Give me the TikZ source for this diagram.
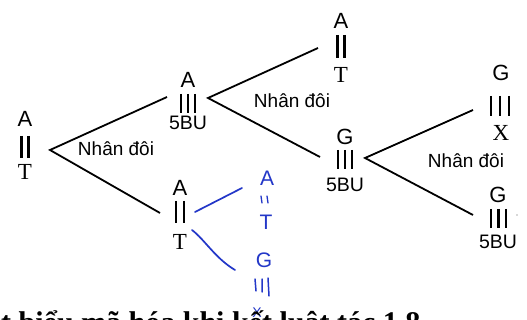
\documentclass[tikz,border=0pt]{standalone}
\usepackage{fontspec}
\setmainfont{Liberation Serif}
\setsansfont{Liberation Sans}
\definecolor{inkblue}{RGB}{35,55,200}
\newcommand\twobars[4]{\draw[bar] (#1,#3)--(#1,#4); \draw[bar] (#2,#3)--(#2,#4);}
\newcommand\threebars[5]{\draw[bar] (#1,#4)--(#1,#5); \draw[bar] (#2,#4)--(#2,#5); \draw[bar] (#3,#4)--(#3,#5);}
\begin{document}
\begin{tikzpicture}[x=1pt,y=-1pt,
  sl/.style={font=\sffamily\fontsize{22}{22}\selectfont, inner sep=0pt},
  sb/.style={font=\sffamily\fontsize{19.5}{19.5}\selectfont, inner sep=0pt},
  sr/.style={font=\rmfamily\fontsize{23}{23}\selectfont, inner sep=0pt},
  lbl/.style={font=\sffamily\fontsize{19}{19}\selectfont, inner sep=0pt},
  bar/.style={line width=2.3pt},
  conn/.style={line width=1.8pt},
  hand/.style={draw=inkblue, line width=1.7pt, line cap=round},
  handtxt/.style={text=inkblue, font=\sffamily\fontsize{21}{21}\selectfont, inner sep=0pt}]
\useasboundingbox (0,0) rectangle (527,320);
\fill[white] (0,0) rectangle (527,320);
% node 1
\node[sl] (a1) at (25,119) {A};
\twobars{21.5}{28.5}{136}{158}
\node[sr] (t1) at (25,172) {T};
% node 2
\node[sl] (a2) at (188,80) {A};
\threebars{181}{188}{195}{94}{113}
\node[sb] (u2) at (188,123) {5BU};
% node 3
\node[sl] (a3) at (341,21) {A};
\twobars{337.5}{344.5}{35}{58}
\node[sr] (t3) at (341,75) {T};
% node 4
\node[sl] (g4) at (345,137) {G};
\threebars{338}{345}{352}{150}{169}
\node[sb] (u4) at (345,185) {5BU};
% node 5
\node[sl] (g5) at (501,73) {G};
\threebars{491}{500}{509}{96}{116}
\node[sr] (x5) at (501,133) {X};
% node 6
\node[sl] (g6) at (498,195) {G};
\threebars{491}{498.5}{506}{209}{228}
\node[sb] (u6) at (498,242) {5BU};
% node 7
\node[sl] (a7) at (180,188) {A};
\twobars{176}{184}{201}{223}
\node[sr] (t7) at (180,242) {T};
% connectors
\coordinate (v1) at (50,150);
\coordinate (e1u) at (167,97);
\coordinate (e1d) at (160,213);
\coordinate (v2) at (208,98);
\coordinate (e2u) at (318,48);
\coordinate (e2d) at (320,157);
\coordinate (v3) at (365,158);
\coordinate (e3u) at (473,110);
\coordinate (e3d) at (473,215);
\draw[conn] (e1u) -- (v1) -- (e1d);
\draw[conn] (e2u) -- (v2) -- (e2d);
\draw[conn] (e3u) -- (v3) -- (e3d);
\node[lbl] (l1) at (116,149) {Nhân đôi};
\node[lbl] (l2) at (292,101) {Nhân đôi};
\node[lbl] (l3) at (466,161) {Nhân đôi};
\fill[gray!60] (517,215) circle (0.8pt);
% handwritten annotations
\coordinate (h1a) at (195,212);
\coordinate (h1b) at (242,188);
\coordinate (h2a) at (192,230);
\coordinate (h2b) at (235,270);
\draw[hand] (h1a) -- (h1b);
\draw[hand] (h2a) .. controls (205,240) and (215,258) .. (h2b);
\node[handtxt] (ha) at (267,178) {A};
\draw[hand, line width=1.3pt] (261,196) -- (262,203) (267,196) -- (268,203);
\node[handtxt] (ht) at (266,222) {T};
\node[handtxt] (hg) at (264,260) {G};
\draw[hand, line width=1.5pt] (255,279) -- (256,291) (262,279) -- (262,292) (268,278) -- (269,296);
\node[handtxt, font=\sffamily\fontsize{14}{14}\selectfont] (hx) at (257,313) {X};
% cut-off bottom line
\begin{scope}
\clip (0,0) rectangle (527,320);
\node[anchor=base west, inner sep=0pt, font=\rmfamily\bfseries\fontsize{30}{30}\selectfont] (bot) at (1,332) {t biểu mã hóa khi kết luật tác 1 8};
\end{scope}
\end{tikzpicture}
\end{document}
